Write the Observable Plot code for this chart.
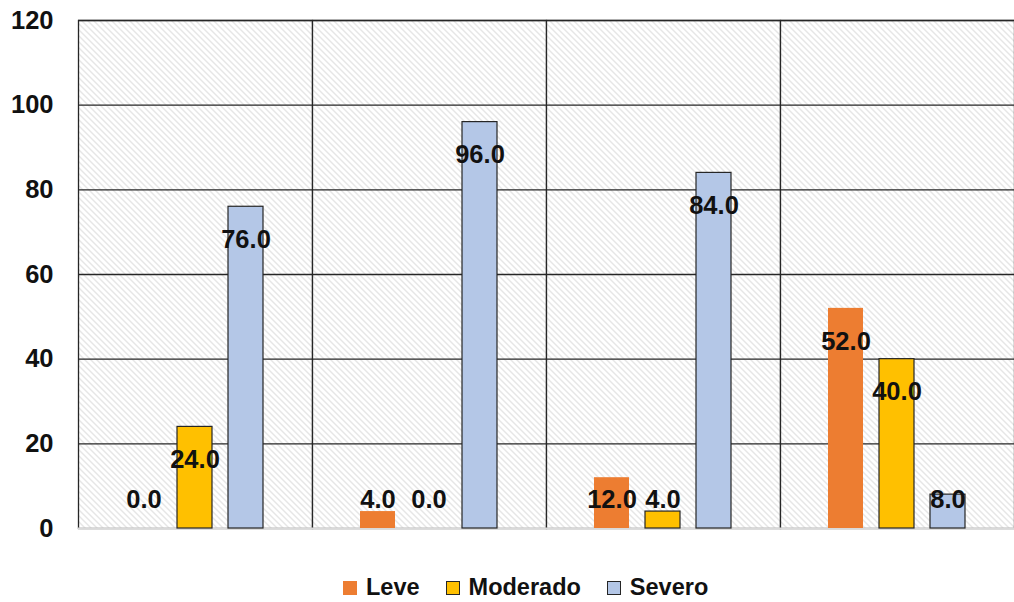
<!DOCTYPE html>
<html>
<head>
<meta charset="utf-8">
<script src="https://cdn.jsdelivr.net/npm/d3@7"></script>
<script src="https://cdn.jsdelivr.net/npm/@observablehq/plot@0.6"></script>
<style>
  body { margin: 0; background: #fff; font-family: "Liberation Sans", Arial, sans-serif; overflow: hidden; }
  #legend { display: flex; align-items: center; height: 80px; padding-left: 343px; font-weight: bold; font-size: 23.5px; line-height: 1; color: #111; }
  .item { display: flex; align-items: center; margin-right: 26px; }
  .sw { width: 14px; height: 14px; margin-right: 9px; box-sizing: border-box; }
</style>
</head>
<body>
<svg width="0" height="0" style="position:absolute">
  <defs>
    <pattern id="hatch" patternUnits="userSpaceOnUse" width="6" height="6">
      <rect width="6" height="6" fill="#ffffff"/>
      <path d="M-1,-1 L7,7 M-1,5 L1,7 M5,-1 L7,1" stroke="#cccccc" stroke-width="1"/>
    </pattern>
  </defs>
</svg>
<div id="chart"></div>
<div id="legend"></div>
<script>
const groups = ["G1", "G2", "G3", "G4"];
const series = ["Leve", "Moderado", "Severo"];
const leve = [0.0, 4.0, 12.0, 52.0];
const moderado = [24.0, 0.0, 4.0, 40.0];
const severo = [76.0, 96.0, 84.0, 8.0];
const colors = ["#ED7D31", "#FFC000", "#B4C7E7"];
const yTicks = [0, 20, 40, 60, 80, 100, 120];

const values = [leve, moderado, severo];
const rows = groups.flatMap((g, i) => series.map((s, j) => ({group: g, series: s, value: values[j][i]})));
const labelY = d => Math.max(d.value - 7.8, 6.8);

const chart = Plot.plot({
  width: 1014,
  height: 548,
  marginTop: 20,
  marginBottom: 20,
  marginLeft: 77,
  marginRight: 0,
  style: {fontFamily: "Liberation Sans, Arial, sans-serif", background: "transparent"},
  fx: {domain: groups, padding: 0, axis: null},
  x: {domain: series, paddingInner: 0.3077, paddingOuter: 0.904, axis: null},
  y: {domain: [0, 120], ticks: yTicks, tickSize: 0, tickPadding: 25, label: null},
  color: {domain: series, range: colors},
  marks: [
    Plot.frame({fill: "url(#hatch)", stroke: "#262626", strokeWidth: 1.3}),
    Plot.ruleY(yTicks.filter(t => t > 0), {stroke: "#262626", strokeWidth: 1.3}),
    Plot.ruleY([0], {stroke: "#d9d9d9", strokeWidth: 2}),
    Plot.barY(rows.filter(d => d.series === "Leve"), {fx: "group", x: "series", y: "value", fill: "series"}),
    Plot.barY(rows.filter(d => d.series !== "Leve"), {fx: "group", x: "series", y: "value", fill: "series", stroke: "#262626", strokeWidth: 1.2}),
    Plot.text(rows, {fx: "group", x: "series", y: labelY, text: d => d.value.toFixed(1), fontSize: 25.5, fontWeight: "bold", fill: "#111"})
  ]
});
chart.querySelectorAll("g[aria-label='y-axis tick label']").forEach(el => {
  el.setAttribute("font-size", "25.5");
  el.setAttribute("font-weight", "bold");
  el.style.fill = "#111";
});
document.getElementById("chart").appendChild(chart);

const legend = document.getElementById("legend");
series.forEach((s, i) => {
  const item = document.createElement("div");
  item.className = "item";
  const sw = document.createElement("div");
  sw.className = "sw";
  sw.style.background = colors[i];
  if (i > 0) sw.style.border = "1.5px solid #262626";
  const t = document.createElement("span");
  t.textContent = s;
  item.appendChild(sw);
  item.appendChild(t);
  legend.appendChild(item);
});
</script>
</body>
</html>
